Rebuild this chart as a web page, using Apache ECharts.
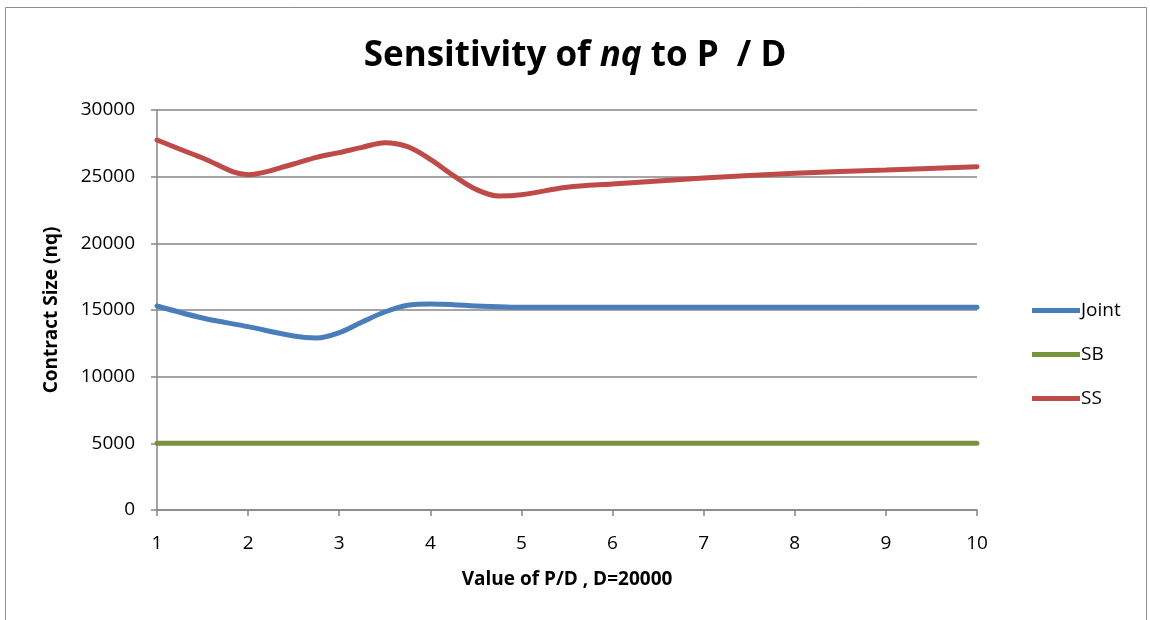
<!DOCTYPE html>
<html>
<head>
<meta charset="utf-8">
<script src="https://cdn.jsdelivr.net/npm/echarts@6/dist/echarts.min.js"></script>
<style>
html,body{margin:0;padding:0;background:#fff;}
#chart{width:1150px;height:620px;}
</style>
</head>
<body>
<div id="chart"></div>
<script>
// P/D values at which the curves were read
const pdValues = [1, 1.5, 2, 2.5, 2.75, 3, 3.25, 3.5, 3.75, 4, 4.25, 4.5, 4.75, 5, 5.5, 6, 7, 8, 9, 10];
const jointValues = [15300, 14400, 13750, 13050, 12900, 13300, 14100, 14850, 15350, 15450, 15400, 15300, 15250, 15200, 15200, 15200, 15200, 15200, 15200, 15200];
const sbValues = [5000, 5000, 5000, 5000, 5000, 5000, 5000, 5000, 5000, 5000, 5000, 5000, 5000, 5000, 5000, 5000, 5000, 5000, 5000, 5000];
const ssValues = [27750, 26400, 25150, 25950, 26450, 26800, 27200, 27550, 27250, 26300, 25100, 24050, 23550, 23650, 24200, 24450, 24900, 25250, 25500, 25750];
const seriesNames = ['Joint', 'SB', 'SS'];
const seriesColors = ['#4A7EBB', '#77933C', '#BE4B48'];
const yTicks = [0, 5000, 10000, 15000, 20000, 25000, 30000];

const FONT = '"Open Sans", "DejaVu Sans", sans-serif';
const toPairs = vals => pdValues.map((x, i) => [x, vals[i]]);
const allValues = [jointValues, sbValues, ssValues];

const chart = echarts.init(document.getElementById('chart'), null, {renderer: 'canvas'});
chart.setOption({
  animation: false,
  backgroundColor: '#fff',
  graphic: [{
    type: 'rect',
    shape: {x: 5.5, y: 7.5, width: 1141, height: 700},
    style: {fill: 'none', stroke: '#8e8e8e', lineWidth: 1},
    silent: true
  }],
  title: {
    left: 'center',
    top: 34,
    text: '{b|Sensitivity of }{i|nq}{b| to P  / D}',
    textStyle: {
      rich: {
        b: {fontFamily: FONT, fontSize: 35, fontWeight: 'bold', color: '#000'},
        i: {fontFamily: FONT, fontSize: 35, fontWeight: 'bold', fontStyle: 'italic', color: '#000'}
      }
    }
  },
  legend: {
    orient: 'vertical',
    left: 1027,
    top: 296,
    itemGap: 25,
    itemWidth: 48,
    itemHeight: 5,
    icon: 'rect',
    textStyle: {fontFamily: FONT, fontSize: 19, color: '#000', padding: [0, 0, 0, -4]},
    data: seriesNames
  },
  grid: {left: 157, right: 173, top: 110, bottom: 110, containLabel: false},
  xAxis: {
    type: 'value',
    min: 1, max: 10, interval: 1,
    name: 'Value of P/D , D=20000',
    nameLocation: 'middle',
    nameGap: 60,
    nameTextStyle: {fontFamily: FONT, fontSize: 19, fontWeight: 'bold', color: '#000'},
    axisLine: {show: true, lineStyle: {color: '#868686', width: 1.5}},
    axisTick: {show: true, inside: false, length: 6, lineStyle: {color: '#868686', width: 1.5}},
    axisLabel: {fontFamily: FONT, fontSize: 19, color: '#000', margin: 24},
    splitLine: {show: false}
  },
  yAxis: {
    type: 'value',
    min: yTicks[0], max: yTicks[yTicks.length - 1], interval: 5000,
    name: 'Contract Size (nq)',
    nameLocation: 'middle',
    nameRotate: 90,
    nameGap: 96,
    nameTextStyle: {fontFamily: FONT, fontSize: 19, fontWeight: 'bold', color: '#000'},
    axisLine: {show: true, lineStyle: {color: '#868686', width: 1.5}},
    axisTick: {show: true, inside: false, length: 6, lineStyle: {color: '#868686', width: 1.5}},
    axisLabel: {fontFamily: FONT, fontSize: 19, color: '#000', margin: 22, formatter: v => String(v)},
    splitLine: {show: true, lineStyle: {color: '#868686', width: 1.5}}
  },
  series: seriesNames.map((name, k) => ({
    name: name,
    type: 'line',
    smooth: 0.35,
    showSymbol: false,
    symbol: 'none',
    data: toPairs(allValues[k]),
    lineStyle: {color: seriesColors[k], width: 5, cap: 'round'},
    itemStyle: {color: seriesColors[k]},
    z: 3 + k
  }))
});
</script>
</body>
</html>
